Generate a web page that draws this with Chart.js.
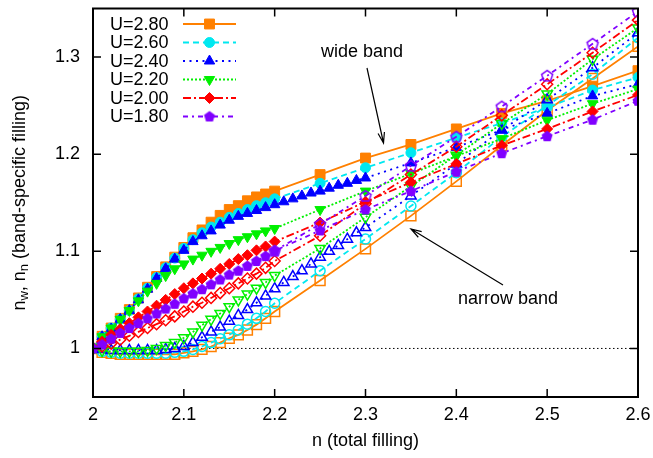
<!DOCTYPE html>
<html>
<head>
<meta charset="utf-8">
<script src="https://cdn.jsdelivr.net/npm/chart.js@4.4.1/dist/chart.umd.min.js"></script>
<style>
  html, body { margin: 0; padding: 0; background: #fff; }
  canvas { display: block; }
</style>
</head>
<body>
<canvas id="fillingChart" width="653" height="458"></canvas>
<script>
'use strict';

/* ── Data ── */
const fillingFine       = [2.00, 2.01, 2.02, 2.03, 2.04, 2.05, 2.06, 2.07, 2.08, 2.09, 2.10,
                           2.11, 2.12, 2.13, 2.14, 2.15, 2.16, 2.17, 2.18, 2.19, 2.20];
const fillingFineBlue   = [2.21, 2.22, 2.23, 2.24, 2.25, 2.26, 2.27, 2.28, 2.29, 2.30];
const fillingCoarse     = [2.25, 2.30, 2.35, 2.40, 2.45, 2.50, 2.55, 2.60];
const fillingCoarseBlue = [2.35, 2.40, 2.45, 2.50, 2.55, 2.60];
const fillingNarrow180  = [2.20, 2.25, 2.30, 2.35, 2.40, 2.45, 2.50, 2.55, 2.60];

const uLabels = ['U=2.80', 'U=2.60', 'U=2.40', 'U=2.20', 'U=2.00', 'U=1.80'];

const wide280   = [1.000, 1.0125, 1.021, 1.031, 1.040, 1.052, 1.063, 1.074, 1.084, 1.094, 1.104,
                   1.114, 1.122, 1.130, 1.137, 1.143, 1.147, 1.152, 1.156, 1.159, 1.162,
                   1.179, 1.196, 1.210, 1.226, 1.242, 1.255, 1.270, 1.286];
const narrow280 = [1.000, 0.996, 0.995, 0.994, 0.994, 0.994, 0.994, 0.994, 0.994, 0.994, 0.9955,
                   0.997, 0.999, 1.002, 1.006, 1.0105, 1.014, 1.019, 1.0245, 1.031, 1.038,
                   1.070, 1.1025, 1.1365, 1.172, 1.209, 1.245, 1.278, 1.311];

const wide260   = [1.000, 1.012, 1.021, 1.030, 1.039, 1.051, 1.062, 1.073, 1.083, 1.093, 1.103,
                   1.112, 1.119, 1.125, 1.130, 1.135, 1.139, 1.143, 1.147, 1.150, 1.154,
                   1.170, 1.186, 1.2015, 1.217, 1.232, 1.248, 1.266, 1.279];
const narrow260 = [1.000, 0.997, 0.996, 0.995, 0.995, 0.995, 0.995, 0.995, 0.995, 0.996, 0.997,
                   0.999, 1.002, 1.006, 1.010, 1.014, 1.019, 1.025, 1.031, 1.038, 1.0465,
                   1.080, 1.1127, 1.1466, 1.181, 1.218, 1.250, 1.2824, 1.320];

const wide240   = [1.000, 1.012, 1.020, 1.030, 1.039, 1.050, 1.061, 1.072, 1.082, 1.092, 1.101,
                   1.110, 1.116, 1.121, 1.127, 1.132, 1.136, 1.139, 1.142, 1.145, 1.148,
                   1.151, 1.154, 1.157, 1.160, 1.162, 1.165, 1.168, 1.170, 1.173, 1.1755,
                   1.191, 1.207, 1.225, 1.242, 1.260, 1.272];
const narrow240 = [1.000, 0.999, 0.998, 0.998, 0.998, 0.998, 0.998, 0.998, 0.999, 1.000, 1.002,
                   1.006, 1.0115, 1.017, 1.022, 1.028, 1.034, 1.040, 1.047, 1.054, 1.0615,
                   1.068, 1.074, 1.080, 1.087, 1.094, 1.100, 1.106, 1.1125, 1.119, 1.1245,
                   1.157, 1.190, 1.225, 1.256, 1.289, 1.325];

const wide220   = [1.000, 1.012, 1.021, 1.030, 1.039, 1.049, 1.059, 1.067, 1.075, 1.082, 1.087,
                   1.092, 1.096, 1.100, 1.104, 1.108, 1.112, 1.115, 1.118, 1.121, 1.1235,
                   1.143, 1.162, 1.180, 1.198, 1.216, 1.235, 1.252, 1.267];
const narrow220 = [1.000, 0.998, 0.997, 0.997, 0.997, 0.997, 0.998, 1.000, 1.003, 1.006, 1.011,
                   1.017, 1.024, 1.030, 1.036, 1.043, 1.050, 1.056, 1.062, 1.068, 1.075,
                   1.103, 1.135, 1.167, 1.199, 1.2315, 1.262, 1.2977, 1.330];

const wide200   = [1.000, 1.007, 1.014, 1.020, 1.026, 1.032, 1.038, 1.044, 1.050, 1.056, 1.062,
                   1.067, 1.072, 1.077, 1.082, 1.087, 1.092, 1.096, 1.101, 1.105, 1.110,
                   1.1296, 1.151, 1.171, 1.190, 1.209, 1.226, 1.244, 1.261];
const narrow200 = [1.000, 1.002, 1.005, 1.009, 1.013, 1.017, 1.021, 1.025, 1.029, 1.033, 1.038,
                   1.043, 1.047, 1.052, 1.057, 1.062, 1.067, 1.072, 1.077, 1.083, 1.090,
                   1.116, 1.149, 1.179, 1.2077, 1.240, 1.272, 1.3045, 1.338];

const wide180   = [1.000, 1.004, 1.010, 1.016, 1.021, 1.026, 1.031, 1.036, 1.041, 1.046, 1.0515,
                   1.0565, 1.061, 1.066, 1.071, 1.076, 1.080, 1.085, 1.090, 1.095, 1.1005,
                   1.1215, 1.143, 1.162, 1.182, 1.201, 1.2185, 1.2355, 1.255];
const narrow180 = [1.1005, 1.128, 1.157, 1.188, 1.218, 1.249, 1.2807, 1.3136, 1.347];

const unityLine = [1, 1];
const unityRange = [2.0, 2.6];

const xTicks = [2, 2.1, 2.2, 2.3, 2.4, 2.5, 2.6];
const xTickLabels = ['2', '2.1', '2.2', '2.3', '2.4', '2.5', '2.6'];
const yTicks = [1, 1.1, 1.2, 1.3];
const yTickLabels = ['1', '1.1', '1.2', '1.3'];

/* ── Styles ── */
const FONT = "'Liberation Sans', Arial, Helvetica, sans-serif";
const colors = ['#ff8000', '#00e8f0', '#0000ff', '#00f000', '#ff0000', '#8000ff'];
const dashes = [[], [6, 4], [2, 4.5], [2, 2], [8, 3, 2, 3], [5, 4, 2, 4]];

const makePentagon = (color, filled) => {
  const c = document.createElement('canvas');
  c.width = 16; c.height = 16;
  const g = c.getContext('2d');
  g.beginPath();
  for (let i = 0; i < 5; i++) {
    const a = -Math.PI / 2 + i * 2 * Math.PI / 5;
    const px = 8 + 5.8 * Math.cos(a), py = 8.4 + 5.8 * Math.sin(a);
    i ? g.lineTo(px, py) : g.moveTo(px, py);
  }
  g.closePath();
  if (filled) { g.fillStyle = color; g.fill(); }
  else { g.strokeStyle = color; g.lineWidth = 1.5; g.stroke(); }
  return c;
};

const markers = [
  { style: 'rect',    radius: 7,   rotation: 0 },
  { style: 'circle',  radius: 5,   rotation: 0 },
  { style: 'triangle', radius: 6,  rotation: 0 },
  { style: 'triangle', radius: 6,  rotation: 180 },
  { style: 'rectRot', radius: 5.5, rotation: 0 },
  { style: null,      radius: 6,   rotation: 0 },
];
const pentagonFilled = makePentagon(colors[5], true);
const pentagonOpen   = makePentagon(colors[5], false);

const zip = (xs, ys) => xs.map((x, i) => ({ x, y: ys[i] }));

const seriesDefs = [
  { k: 0, filled: true,  x: fillingFine.concat(fillingCoarse), y: wide280 },
  { k: 0, filled: false, x: fillingFine.concat(fillingCoarse), y: narrow280 },
  { k: 1, filled: true,  x: fillingFine.concat(fillingCoarse), y: wide260 },
  { k: 1, filled: false, x: fillingFine.concat(fillingCoarse), y: narrow260 },
  { k: 2, filled: true,  x: fillingFine.concat(fillingFineBlue, fillingCoarseBlue), y: wide240 },
  { k: 2, filled: false, x: fillingFine.concat(fillingFineBlue, fillingCoarseBlue), y: narrow240 },
  { k: 3, filled: true,  x: fillingFine.concat(fillingCoarse), y: wide220 },
  { k: 3, filled: false, x: fillingFine.concat(fillingCoarse), y: narrow220 },
  { k: 4, filled: true,  x: fillingFine.concat(fillingCoarse), y: wide200 },
  { k: 4, filled: false, x: fillingFine.concat(fillingCoarse), y: narrow200 },
  { k: 5, filled: true,  x: fillingFine.concat(fillingCoarse), y: wide180 },
  { k: 5, filled: false, x: fillingNarrow180, y: narrow180 },
];

const datasets = seriesDefs.map((s, i) => {
  const col = colors[s.k], mk = markers[s.k];
  const style = s.k === 5 ? (s.filled ? pentagonFilled : pentagonOpen) : mk.style;
  return {
    label: uLabels[s.k] + (s.filled ? ' wide' : ' narrow'),
    data: zip(s.x, s.y),
    borderColor: col,
    borderWidth: 1.8,
    borderDash: dashes[s.k],
    fill: false,
    tension: 0,
    pointStyle: style,
    pointRadius: mk.radius,
    pointRotation: mk.rotation,
    pointBackgroundColor: s.filled ? col : 'rgba(0,0,0,0)',
    pointBorderColor: col,
    pointBorderWidth: s.filled ? 1 : 1.5,
    order: 50 - i,
  };
});

datasets.push({
  label: 'n = 1',
  data: zip(unityRange, unityLine),
  borderColor: '#000',
  borderWidth: 1,
  borderDash: [1.5, 2.5],
  pointRadius: 0,
  fill: false,
  order: 100,
});

/* ── Frame, ticks, legend, notes ── */
const arrow = (ctx, x1, y1, x2, y2) => {
  const ang = Math.atan2(y2 - y1, x2 - x1), len = 11, spread = 0.3;
  ctx.beginPath();
  ctx.moveTo(x1, y1); ctx.lineTo(x2, y2);
  ctx.moveTo(x2 - len * Math.cos(ang - spread), y2 - len * Math.sin(ang - spread));
  ctx.lineTo(x2, y2);
  ctx.lineTo(x2 - len * Math.cos(ang + spread), y2 - len * Math.sin(ang + spread));
  ctx.stroke();
};

const decorations = {
  id: 'decorations',
  afterDatasetsDraw(chart) {
    const { ctx, chartArea: a, scales: { x, y } } = chart;
    ctx.save();
    ctx.strokeStyle = '#000';
    ctx.fillStyle = '#000';

    // inward ticks on all four sides
    ctx.lineWidth = 1.5;
    ctx.beginPath();
    xTicks.forEach(v => {
      const px = x.getPixelForValue(v);
      ctx.moveTo(px, a.bottom); ctx.lineTo(px, a.bottom - 8);
      ctx.moveTo(px, a.top);    ctx.lineTo(px, a.top + 8);
    });
    yTicks.forEach(v => {
      const py = y.getPixelForValue(v);
      ctx.moveTo(a.left, py);  ctx.lineTo(a.left + 8, py);
      ctx.moveTo(a.right, py); ctx.lineTo(a.right - 8, py);
    });
    ctx.stroke();

    // border
    ctx.lineWidth = 2;
    ctx.strokeRect(a.left, a.top, a.right - a.left, a.bottom - a.top);

    // legend
    ctx.font = '18px ' + FONT;
    ctx.textBaseline = 'middle';
    ctx.textAlign = 'left';
    uLabels.forEach((lab, k) => {
      const ly = 24 + k * 18.5;
      ctx.fillStyle = '#000';
      ctx.fillText(lab, 110, ly + 1);
      ctx.strokeStyle = colors[k];
      ctx.fillStyle = colors[k];
      ctx.lineWidth = 1.8;
      ctx.setLineDash(dashes[k]);
      ctx.beginPath(); ctx.moveTo(183, ly); ctx.lineTo(236, ly); ctx.stroke();
      ctx.setLineDash([]);
      ctx.lineWidth = 1;
      const mk = markers[k];
      Chart.helpers.drawPoint(ctx, {
        pointStyle: k === 5 ? pentagonFilled : mk.style,
        radius: mk.radius, rotation: mk.rotation, borderWidth: 1,
      }, 209.5, ly);
    });

    // annotations
    ctx.strokeStyle = '#000';
    ctx.fillStyle = '#000';
    ctx.lineWidth = 1.2;
    ctx.textAlign = 'center';
    ctx.fillText('wide band', 362, 52);
    arrow(ctx, 367, 68, 383.5, 143);
    ctx.fillText('narrow band', 508, 299);
    arrow(ctx, 503, 285, 411, 229);

    // y axis title with subscripts
    const parts = [['n', 18, 0], ['w', 13, 4], [', n', 18, 0], ['n', 13, 4], [' (band-specific filling)', 18, 0]];
    ctx.translate(20, (a.top + a.bottom) / 2);
    ctx.rotate(-Math.PI / 2);
    let total = 0;
    parts.forEach(([t, s]) => { ctx.font = s + 'px ' + FONT; total += ctx.measureText(t).width; });
    let cx = -total / 2;
    ctx.textAlign = 'left';
    parts.forEach(([t, s, dy]) => {
      ctx.font = s + 'px ' + FONT;
      ctx.fillText(t, cx, dy);
      cx += ctx.measureText(t).width;
    });
    ctx.restore();
  },
};

Chart.defaults.font.family = FONT;
Chart.defaults.font.size = 18;
Chart.defaults.color = '#000';

new Chart(document.getElementById('fillingChart'), {
  type: 'line',
  data: { datasets },
  options: {
    responsive: false,
    animation: false,
    devicePixelRatio: 1,
    layout: { padding: { top: 3, right: 15, left: 0, bottom: 0 } },
    plugins: { legend: { display: false }, tooltip: { enabled: false } },
    scales: {
      x: {
        type: 'linear',
        min: 2, max: 2.6,
        grid: { display: false, drawTicks: false },
        border: { display: false },
        afterBuildTicks: s => { s.ticks = xTicks.map(v => ({ value: v })); },
        afterFit: s => { s.height = 61; s.paddingLeft = 0; s.paddingRight = 0; },
        ticks: {
          padding: 7,
          maxRotation: 0,
          callback: v => xTickLabels[xTicks.indexOf(v)] ?? '',
        },
        title: { display: true, text: 'n (total filling)', padding: { top: 0, bottom: 6 } },
      },
      y: {
        type: 'linear',
        min: 0.95, max: 1.35,
        grid: { display: false, drawTicks: false },
        border: { display: false },
        afterBuildTicks: s => { s.ticks = yTicks.map(v => ({ value: v })); },
        afterFit: s => { s.width = 93; s.paddingTop = 0; s.paddingBottom = 0; },
        ticks: {
          padding: 13,
          callback: v => yTickLabels[yTicks.indexOf(v)] ?? '',
        },
      },
    },
  },
  plugins: [decorations],
});
</script>
</body>
</html>
